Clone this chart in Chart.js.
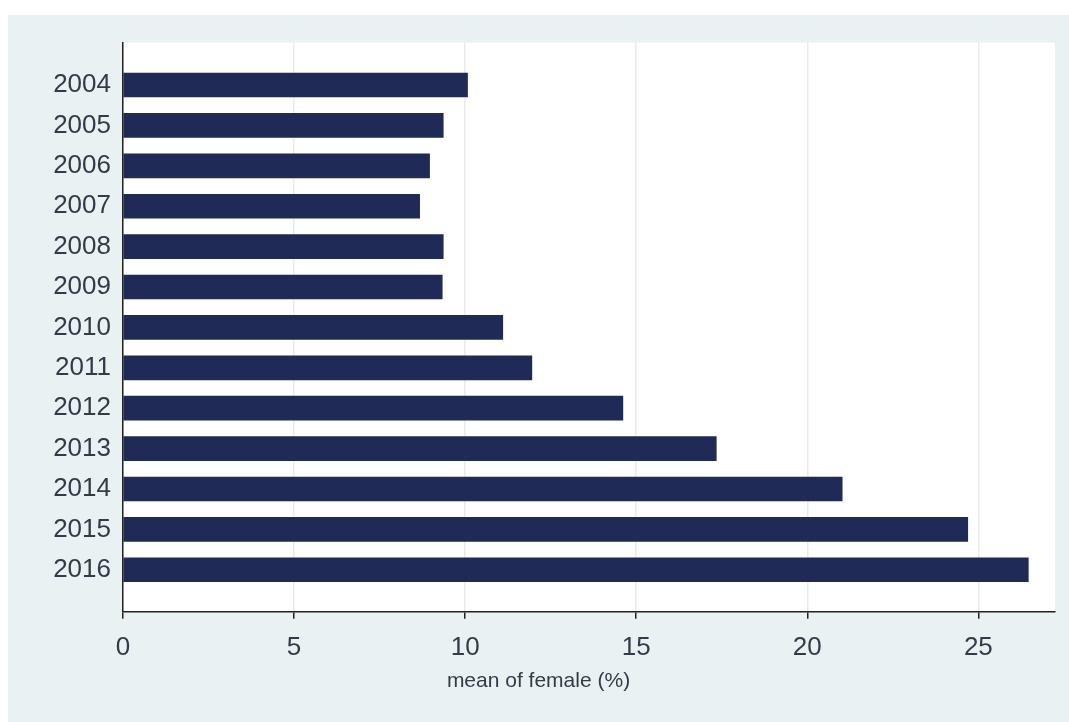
<!DOCTYPE html>
<html>
<head>
<meta charset="utf-8">
<script src="https://cdn.jsdelivr.net/npm/chart.js@4"></script>
<style>
  html, body { margin: 0; padding: 0; background: #fff; }
  #wrap { position: absolute; left: 8px; top: 15px; width: 1061px; height: 707px; background: #eaf1f3; }
</style>
</head>
<body>
<div id="wrap"><canvas id="bar_chart" width="1061" height="707"></canvas></div>
<script>
// data
const years = ['2004', '2005', '2006', '2007', '2008', '2009', '2010', '2011', '2012', '2013', '2014', '2015', '2016'];
const mean_female = [10.07, 9.36, 8.96, 8.67, 9.36, 9.33, 11.10, 11.95, 14.61, 17.34, 21.02, 24.69, 26.46];
const x_title = 'mean of female (%)';

const ink = '#333b48';
const navy = '#1f2a56';
const font_family = 'Liberation Sans, Arial, sans-serif';

// white plot region
const plotBg = {
    id: 'plotBg',
    beforeDraw(chart) {
        const a = chart.chartArea;
        const c = chart.ctx;
        c.save();
        c.fillStyle = '#ffffff';
        c.fillRect(a.left, a.top, a.right - a.left, a.bottom - a.top);
        c.restore();
    }
};

const ctx = document.getElementById('bar_chart').getContext('2d');
new Chart(ctx, {
    type: 'bar',
    data: {
        datasets: [{
            label: x_title,
            data: years.map((y, i) => ({ x: mean_female[i], y: i })),
            backgroundColor: navy,
            borderWidth: 0,
            barThickness: 24
        }]
    },
    options: {
        indexAxis: 'y',
        responsive: false,
        animation: false,
        layout: { padding: { top: 26, right: 14, left: 14, bottom: 0 } },
        plugins: {
            legend: { display: false },
            tooltip: { enabled: false },
            // stata centres the axis title on the whole graph
            title: {
                display: true,
                position: 'bottom',
                text: x_title,
                color: ink,
                padding: { top: 0, bottom: 28 },
                font: { family: font_family, size: 21, weight: 'normal' }
            }
        },
        scales: {
            x: {
                type: 'linear',
                min: 0,
                max: 27.24,
                grid: { color: '#e9ebec', lineWidth: 1.5, tickColor: '#222', tickLength: 7 },
                border: { color: '#222', width: 1.5 },
                ticks: {
                    stepSize: 5,
                    includeBounds: false,
                    color: ink,
                    padding: 13,
                    font: { family: font_family, size: 26 }
                },
                afterFit(scale) { scale.height = 57; }
            },
            y: {
                type: 'linear',
                reverse: true,
                offset: false,
                bounds: 'data',
                min: -1.05,
                max: 13.04,
                grid: { display: false, drawTicks: false, offset: false },
                border: { display: true, color: '#222', width: 1.5 },
                ticks: {
                    autoSkip: false,
                    color: ink,
                    padding: 12,
                    font: { family: font_family, size: 26 },
                    callback: v => years[v]
                },
                afterBuildTicks(scale) {
                    scale.ticks = years.map((y, i) => ({ value: i }));
                },
                afterFit(scale) { scale.width = 101; }
            }
        }
    },
    plugins: [plotBg]
});
</script>
</body>
</html>
